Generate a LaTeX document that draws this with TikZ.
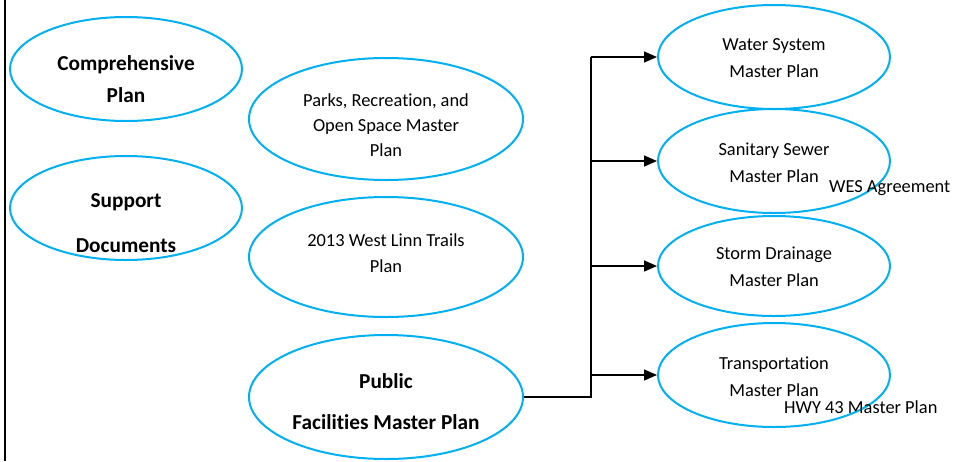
\documentclass[tikz,border=0pt]{standalone}
\usepackage{fontspec}
\setmainfont{Carlito}[Ligatures={NoCommon}]
\usetikzlibrary{shapes.geometric,arrows.meta}
\definecolor{eblue}{RGB}{0,176,240}
\begin{document}
\begin{tikzpicture}[x=1pt,y=-1pt,
  ov/.style={draw=eblue,line width=2pt,ellipse,inner sep=0pt},
  tb/.style={align=center,inner sep=0pt,font=\bfseries\fontsize{21.3}{#1}\selectfont},
  tr/.style={align=center,inner sep=0pt,font=\fontsize{18.4}{#1}\selectfont},
  br/.style={line width=1.5pt,-{Triangle[length=13pt,width=11pt]}}]
\useasboundingbox (0,0) rectangle (956,461);
\draw[line width=2pt] (5,0) -- (5,461);
% left column
\node[ov,minimum width=232pt,minimum height=104pt] (comp) at (126,69) {};
\node[tb=32] (compt) at (126,79) {Comprehensive\\Plan};
\node[ov,minimum width=232pt,minimum height=104pt] (supp) at (126,208) {};
\node[tb=45] (suppt) at (126,223.5) {Support\\Documents};
% middle column
\node[ov,minimum width=274pt,minimum height=122pt] (parks) at (386,119) {};
\node[tr=25] (parkst) at (386,125) {Parks, Recreation, and\\Open Space Master\\Plan};
\node[ov,minimum width=274pt,minimum height=120pt] (trails) at (386,257) {};
\node[tr=26] (trailst) at (386,253) {2013 West Linn Trails\\Plan};
\node[ov,minimum width=274pt,minimum height=124pt] (pub) at (386,397) {};
\node[tb=41] (pubt) at (386,401.5) {Public\\Facilities Master Plan};
% right column
\node[ov,minimum width=232pt,minimum height=104pt] (water) at (774,57) {};
\node[tr=27] (watert) at (774,58.5) {Water System\\Master Plan};
\node[ov,minimum width=232pt,minimum height=104pt] (san) at (774,161) {};
\node[tr=27] (sant) at (774,162.5) {Sanitary Sewer\\Master Plan};
\node[ov,minimum width=232pt,minimum height=100pt] (storm) at (774,266) {};
\node[tr=27] (stormt) at (774,266.5) {Storm Drainage\\Master Plan};
\node[ov,minimum width=232pt,minimum height=104pt] (trans) at (774,375) {};
\node[tr=27] (transt) at (774,376.5) {Transportation\\Master Plan};
\node[tr=18,anchor=west] (wes) at (829,188) {WES Agreement};
\node[tr=18,anchor=west] (hwy) at (784,407) {HWY 43 Master Plan};
% connectors
\coordinate (j) at (591,397);
\draw[line width=2pt] (pub.east) -- (j) -- (j |- water.west);
\draw[br] (j |- water.west) -- (water.west);
\draw[br] (j |- san.west) -- (san.west);
\draw[br] (j |- storm.west) -- (storm.west);
\draw[br] (j |- trans.west) -- (trans.west);
\end{tikzpicture}
\end{document}
